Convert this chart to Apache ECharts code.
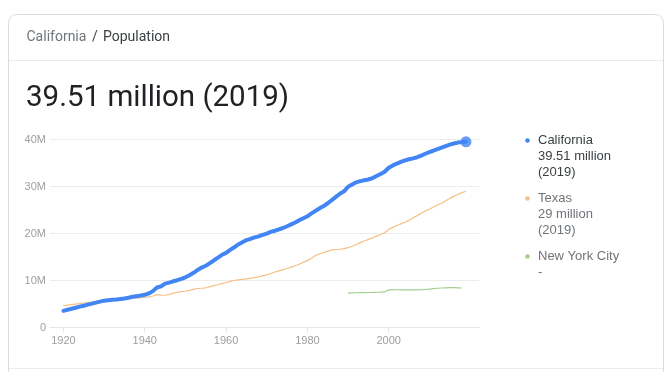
<!DOCTYPE html>
<html>
<head>
<meta charset="utf-8">
<script src="https://cdn.jsdelivr.net/npm/echarts@6/dist/echarts.min.js"></script>
<style>
html,body{margin:0;padding:0;background:#fff;}
#c{width:672px;height:372px;}
</style>
</head>
<body>
<div id="c"></div>
<script>
// Years 1920..2019
var caYears = [];
for (var y = 1920; y <= 2019; y++) caYears.push(y);
// California population (millions)
var californiaValues = [
 3.55,3.77,3.99,4.21,4.43,4.64,4.86,5.07,5.29,5.50,
 5.71,5.82,5.90,5.97,6.07,6.18,6.34,6.53,6.66,6.79,
 6.95,7.24,7.74,8.51,8.75,9.34,9.56,9.83,10.06,10.34,
 10.68,11.13,11.64,12.25,12.75,13.13,13.71,14.26,14.88,15.47,
 15.87,16.50,17.07,17.67,18.15,18.59,18.86,19.18,19.39,19.71,
 19.97,20.35,20.59,20.87,21.17,21.54,21.94,22.35,22.84,23.26,
 23.67,24.29,24.82,25.36,25.84,26.44,27.10,27.78,28.46,28.97,
 29.95,30.41,30.88,31.15,31.32,31.49,31.78,32.22,32.68,33.15,
 33.99,34.49,34.88,35.25,35.56,35.80,35.98,36.23,36.58,36.96,
 37.32,37.64,37.95,38.25,38.59,38.90,39.15,39.34,39.44,39.51
];
// Texas population (millions)
var texasValues = [
 4.66,4.77,4.88,4.99,5.10,5.21,5.32,5.43,5.54,5.66,
 5.82,5.88,5.94,6.00,6.05,6.10,6.15,6.23,6.30,6.37,
 6.42,6.50,6.70,7.00,6.90,6.86,7.00,7.30,7.50,7.65,
 7.71,7.90,8.10,8.30,8.35,8.45,8.70,8.90,9.10,9.35,
 9.58,9.80,10.00,10.15,10.25,10.35,10.45,10.60,10.80,11.00,
 11.20,11.50,11.80,12.05,12.30,12.55,12.85,13.15,13.45,13.90,
 14.23,14.75,15.30,15.70,15.95,16.25,16.50,16.60,16.65,16.80,
 16.99,17.30,17.65,18.05,18.40,18.75,19.10,19.45,19.80,20.15,
 20.85,21.30,21.70,22.05,22.40,22.80,23.35,23.80,24.30,24.80,
 25.15,25.65,26.06,26.45,26.95,27.47,27.90,28.30,28.70,29.00
];
// New York City population (millions), 1990..2018
var nycYears = [];
for (var z = 1990; z <= 2018; z++) nycYears.push(z);
var nycValues = [
 7.33,7.37,7.39,7.41,7.43,7.45,7.47,7.50,7.53,7.57,
 8.01,8.04,8.03,8.01,8.00,7.99,7.99,8.00,8.04,8.10,
 8.18,8.27,8.35,8.40,8.44,8.47,8.47,8.44,8.40
];
var xTickLabels = [1920, 1940, 1960, 1980, 2000];

function pairs(xs, vs) {
  var out = [];
  for (var i = 0; i < xs.length; i++) out.push([xs[i], vs[i] * 1e6]);
  return out;
}

var BLUE = '#4285f4', ORANGE = '#f5bf86', GREEN = '#a3cf90';
var axisFont = '"Liberation Sans", Arial, sans-serif';
var gFont = 'Roboto, "Liberation Sans", Arial, sans-serif';

var chart = echarts.init(document.getElementById('c'), null, {renderer: 'canvas'});
var lastIdx = caYears.length - 1;

var legendTexts = [
  {t: 'California', y: 140.7, c: '#3c4043'},
  {t: '39.51 million', y: 156.7, c: '#3c4043'},
  {t: '(2019)', y: 172.7, c: '#3c4043'},
  {t: 'Texas', y: 198.7, c: '#70757a'},
  {t: '29 million', y: 214.7, c: '#70757a'},
  {t: '(2019)', y: 230.7, c: '#70757a'},
  {t: 'New York City', y: 256.3, c: '#70757a'},
  {t: '-', y: 272.3, c: '#70757a'}
];
var graphics = [
  {type: 'rect', z: -10, shape: {x: 8.5, y: 14.5, width: 655, height: 420, r: 8},
   style: {fill: '#fff', stroke: '#dadce0', lineWidth: 1}},
  {type: 'line', shape: {x1: 9, y1: 60.5, x2: 663, y2: 60.5}, style: {stroke: '#ebebeb', lineWidth: 1}},
  {type: 'line', shape: {x1: 9, y1: 368.5, x2: 663, y2: 368.5}, style: {stroke: '#ebebeb', lineWidth: 1}},
  {type: 'text', x: 26.5, y: 37.3, style: {text: 'California', font: '14px ' + gFont, fill: '#70757a', verticalAlign: 'middle'}},
  {type: 'text', x: 92, y: 37.3, style: {text: '/', font: '14px ' + gFont, fill: '#3c4043', verticalAlign: 'middle'}},
  {type: 'text', x: 103, y: 37.3, style: {text: 'Population', font: '14px ' + gFont, fill: '#3c4043', verticalAlign: 'middle'}},
  {type: 'text', x: 26, y: 98.5, style: {text: '39.51 million (2019)', font: '29.5px ' + gFont, fill: '#202124', verticalAlign: 'middle'}},
  {type: 'circle', shape: {cx: 527.5, cy: 140.5, r: 2.3}, style: {fill: BLUE}},
  {type: 'circle', shape: {cx: 527.5, cy: 198.5, r: 2.3}, style: {fill: ORANGE}},
  {type: 'circle', shape: {cx: 527.5, cy: 256.5, r: 2.3}, style: {fill: GREEN}}
];
legendTexts.forEach(function (l) {
  graphics.push({type: 'text', x: 538, y: l.y, style: {text: l.t, font: '13px ' + axisFont, fill: l.c, verticalAlign: 'middle'}});
});

chart.setOption({
  animation: false,
  backgroundColor: '#fff',
  grid: {left: 50, top: 139.5, width: 429, height: 188, containLabel: false},
  graphic: graphics,
  xAxis: {
    type: 'value', min: 1916.7, max: 2022.2,
    splitLine: {show: false},
    axisLine: {show: true, lineStyle: {color: '#e6e6e6'}},
    axisTick: {show: true, customValues: xTickLabels, length: 5, lineStyle: {color: '#e6e6e6'}},
    axisLabel: {customValues: xTickLabels, color: '#9e9e9e', fontSize: 11, fontFamily: axisFont, margin: 8,
      formatter: function (v) { return String(v); }}
  },
  yAxis: {
    type: 'value', min: 0, max: 40e6, interval: 10e6,
    axisLine: {show: false}, axisTick: {show: false},
    splitLine: {lineStyle: {color: '#ececec'}},
    axisLabel: {color: '#9e9e9e', fontSize: 11, fontFamily: axisFont, margin: 4,
      formatter: function (v) { return v === 0 ? '0' : (v / 1e6) + 'M'; }}
  },
  series: [
    {type: 'line', name: 'New York City', data: pairs(nycYears, nycValues), showSymbol: false,
     lineStyle: {color: GREEN, width: 1.2}, z: 2},
    {type: 'line', name: 'Texas', data: pairs(caYears, texasValues), showSymbol: false,
     lineStyle: {color: ORANGE, width: 1.2}, z: 3},
    {type: 'line', name: 'California', data: pairs(caYears, californiaValues), showSymbol: false,
     lineStyle: {color: BLUE, width: 4, cap: 'round', join: 'round'}, z: 4},
    {type: 'scatter', data: [[caYears[lastIdx], californiaValues[lastIdx] * 1e6]], symbolSize: 11,
     itemStyle: {color: BLUE}, z: 5}
  ]
});
</script>
</body>
</html>
